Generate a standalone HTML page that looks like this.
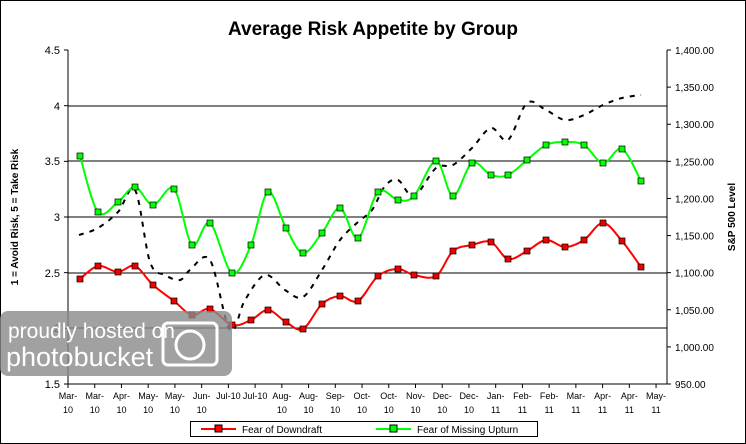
<!DOCTYPE html><html><head><style>body{margin:0;background:#fff}svg{display:block;font-family:"Liberation Sans",Arial,sans-serif}</style></head><body>
<svg width="746" height="444" xmlns="http://www.w3.org/2000/svg">
<rect x="0.5" y="0.5" width="745" height="443" fill="#fff" stroke="#000"/>
<text x="373" y="35" text-anchor="middle" font-size="19" font-weight="bold">Average Risk Appetite by Group</text>
<g stroke="#000" stroke-width="1">
<line x1="68" y1="106" x2="667" y2="106"/><line x1="68" y1="161" x2="667" y2="161"/><line x1="68" y1="217" x2="667" y2="217"/><line x1="68" y1="273" x2="667" y2="273"/><line x1="68" y1="328" x2="667" y2="328"/>
<line x1="68" y1="50" x2="68" y2="384"/><line x1="667" y1="50" x2="667" y2="384"/><line x1="68" y1="384" x2="667" y2="384"/>
</g>
<g id="ticks" stroke="#000"></g>
<g font-size="11" text-anchor="end">
<text x="60" y="54">4.5</text><text x="60" y="110">4</text><text x="60" y="165">3.5</text><text x="60" y="221">3</text><text x="60" y="277">2.5</text><text x="60" y="332">2</text><text x="60" y="388">1.5</text>
</g>
<g id="rl" font-size="10"></g>
<text transform="translate(18,217) rotate(-90)" text-anchor="middle" font-size="10" font-weight="bold">1 = Avoid Risk, 5 = Take Risk</text>
<text transform="translate(735,217) rotate(-90)" text-anchor="middle" font-size="10" font-weight="bold">S&amp;P 500 Level</text>
<g id="xl" font-size="9" text-anchor="middle"></g>
<path id="blk" fill="none" stroke="#000" stroke-width="2" stroke-dasharray="5,6"/>
<path id="red" fill="none" stroke="#f00" stroke-width="2"/>
<path id="grn" fill="none" stroke="#0f0" stroke-width="2"/>
<g id="mk"></g>
<rect x="0" y="311" width="232" height="65" rx="8" fill="#8a8a8a" fill-opacity="0.8"/>
<text x="8" y="338" font-size="21" fill="#fff">proudly hosted on</text>
<text x="6" y="366" font-size="27" fill="#fff">photobucket</text>
<rect x="163" y="323" width="54" height="42" rx="5" fill="none" stroke="#fff" stroke-width="3"/>
<circle cx="190" cy="345" r="14" fill="none" stroke="#fff" stroke-width="3"/>
<rect x="190.5" y="421.5" width="347" height="15" fill="#fff" stroke="#000"/>
<line x1="201" y1="429" x2="236" y2="429" stroke="#f00" stroke-width="2"/><rect x="215" y="425" width="7" height="7" fill="#f00" stroke="#000"/>
<text x="242" y="433" font-size="10">Fear of Downdraft</text>
<line x1="376" y1="429" x2="411" y2="429" stroke="#0f0" stroke-width="2"/><rect x="390" y="425" width="7" height="7" fill="#0f0" stroke="#000"/>
<text x="417" y="433" font-size="10">Fear of Missing Upturn</text>
</svg>
<script>
const ns="http://www.w3.org/2000/svg";
function el(p,t,a,txt){const e=document.createElementNS(ns,t);for(const k in a)e.setAttribute(k,a[k]);if(txt!=null)e.textContent=txt;document.getElementById(p).appendChild(e);}
const xs=[80,98,118,135,153,174,192,210,232,251,268,286,303,322,340,358,378,398,414,436,453,472,491,508,527,546,565,584,603,622,641];
const r=[279,266,272,266,285,301,315,309,325,320,310,322,329,304,296,301,276,269,275,276,251,245,242,259,251,240,247,240,223,241,267];
const g=[156,212,202,187,205,189,245,223,273,245,192,228,253,233,208,238,192,200,196,161,196,163,175,175,160,145,142,145,163,149,181];
const bx=[79,98,118,135,150,165,180,190,210,230,245,265,285,303,322,340,358,372,385,398,414,436,453,472,491,508,527,546,565,584,603,622,641];
const by=[235,228,212,190,262,275,280,270,260,330,300,275,290,297,270,240,222,210,186,180,196,168,165,148,128,140,103,110,120,115,105,98,95];
function cr(X,Y){let d=`M${X[0]},${Y[0]}`;for(let i=0;i<X.length-1;i++){const x0=X[Math.max(i-1,0)],y0=Y[Math.max(i-1,0)],x3=X[Math.min(i+2,X.length-1)],y3=Y[Math.min(i+2,X.length-1)];d+=` C${X[i]+(X[i+1]-x0)/6},${Y[i]+(Y[i+1]-y0)/6} ${X[i+1]-(x3-X[i])/6},${Y[i+1]-(y3-Y[i])/6} ${X[i+1]},${Y[i+1]}`;}return d;}
document.getElementById('red').setAttribute('d',cr(xs,r));
document.getElementById('grn').setAttribute('d',cr(xs,g));
document.getElementById('blk').setAttribute('d',cr(bx,by));
xs.forEach((x,i)=>{el('mk','rect',{x:x-3,y:r[i]-3,width:6,height:6,fill:'#e00',stroke:'#000','stroke-width':0.7});el('mk','rect',{x:x-3,y:g[i]-3,width:6,height:6,fill:'#0f0',stroke:'#000','stroke-width':0.7});});
const lab=["Mar-|10","Mar-|10","Apr-|10","May-|10","May-|10","Jun-|10","Jul-10|","Jul-10|","Aug-|10","Aug-|10","Sep-|10","Oct-|10","Oct-|10","Nov-|10","Dec-|10","Dec-|10","Jan-|11","Feb-|11","Feb-|11","Mar-|11","Apr-|11","Apr-|11","May-|11"];
lab.forEach((l,i)=>{const x=68+i*26.73;el('ticks','line',{x1:x,y1:384,x2:x,y2:388});const p=l.split('|');el('xl','text',{x:x,y:399},p[0]);if(p[1])el('xl','text',{x:x,y:413},p[1]);});
for(let v=950,i=0;v<=1400;v+=50,i++){const y=384-i*37.11;el('rl','text',{x:675,y:y+4},v.toLocaleString('en-US',{minimumFractionDigits:2}));el('ticks','line',{x1:667,y1:y,x2:671,y2:y});}
for(let i=0;i<7;i++){const y=50+i*55.67;el('ticks','line',{x1:64,y1:y,x2:68,y2:y});}
</script>
</body></html>
